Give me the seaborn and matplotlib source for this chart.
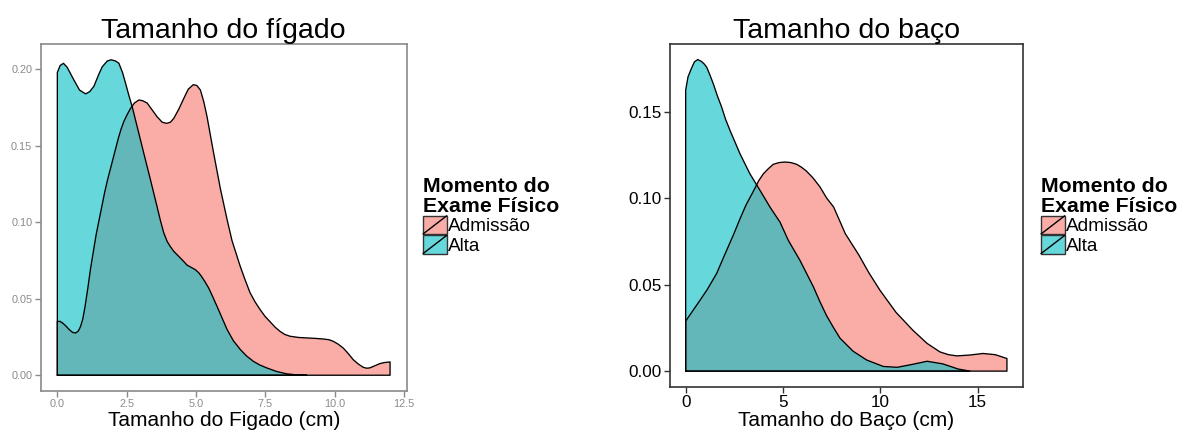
import pandas as pd
import matplotlib
matplotlib.use('Agg')
import matplotlib.pyplot as plt
import seaborn as sns
from matplotlib.colors import to_rgba
from matplotlib.legend_handler import HandlerBase
from matplotlib.patches import Patch, Rectangle
from matplotlib.lines import Line2D
from matplotlib.ticker import FormatStrFormatter


grupos = ['Admissão', 'Alta']
cores = ['#F8766D', '#00BFC4']

# curvas de densidade
figado_adm_x = [0, 0.1, 0.2, 0.32, 0.42, 0.55, 0.66, 0.76, 0.84, 0.92, 1.0, 1.1, 1.2, 1.3,
                1.4, 1.5, 1.6, 1.7, 1.8, 1.9, 2.0, 2.1, 2.2, 2.3, 2.4, 2.52, 2.64, 2.78,
                2.94, 3.08, 3.24, 3.42, 3.6, 3.78, 3.94, 4.08, 4.2, 4.38, 4.56, 4.72, 4.9,
                5.03, 5.16, 5.28, 5.4, 5.52, 5.64, 5.76, 5.88, 6.0, 6.12, 6.3, 6.45, 6.6,
                6.78, 6.95, 7.13, 7.31, 7.49, 7.67, 7.85, 8.03, 8.2, 8.39, 8.7, 8.99, 9.3,
                9.59, 9.8, 9.95, 10.13, 10.31, 10.5, 10.67, 10.85, 11.03, 11.15, 11.27,
                11.45, 11.63, 11.8, 12.0]
figado_adm_y = [0.0352, 0.0352, 0.034, 0.032, 0.030, 0.028, 0.0276, 0.029, 0.032, 0.037,
                0.045, 0.057, 0.070, 0.081, 0.092, 0.101, 0.110, 0.119, 0.127, 0.134,
                0.141, 0.148, 0.155, 0.161, 0.166, 0.1705, 0.1745, 0.178, 0.180, 0.1795,
                0.178, 0.1735, 0.169, 0.1655, 0.1647, 0.1655, 0.168, 0.174, 0.181, 0.187,
                0.190, 0.1895, 0.1865, 0.179, 0.169, 0.157, 0.145, 0.1335, 0.122, 0.112,
                0.102, 0.088, 0.0795, 0.071, 0.062, 0.054, 0.048, 0.043, 0.0385, 0.035,
                0.0315, 0.0287, 0.0267, 0.0255, 0.0247, 0.0244, 0.0241, 0.0237, 0.0232,
                0.0222, 0.0203, 0.0178, 0.0140, 0.0102, 0.0074, 0.0052, 0.0046, 0.0048,
                0.0062, 0.0076, 0.0083, 0.0087]

figado_alta_x = [0, 0.1, 0.22, 0.35, 0.6, 0.8, 1.02, 1.17, 1.32, 1.5, 1.62, 1.8, 1.94, 2.1,
                 2.22, 2.35, 2.46, 2.58, 2.7, 2.88, 3.12, 3.36, 3.6, 3.72, 3.84, 3.96,
                 4.08, 4.2, 4.32, 4.5, 4.68, 4.85, 4.98, 5.1, 5.2, 5.33, 5.46, 5.6, 5.76,
                 5.94, 6.12, 6.35, 6.6, 6.83, 7.07, 7.3, 7.55, 7.9, 8.27, 8.6, 9.0]
figado_alta_y = [0.198, 0.2025, 0.204, 0.2015, 0.193, 0.1865, 0.184, 0.1855, 0.189, 0.197,
                 0.2017, 0.2055, 0.2063, 0.2055, 0.204, 0.198, 0.191, 0.183, 0.1756,
                 0.1625, 0.145, 0.1277, 0.110, 0.101, 0.093, 0.0875, 0.084, 0.081, 0.0788,
                 0.0755, 0.072, 0.0703, 0.069, 0.067, 0.0646, 0.061, 0.057, 0.0515, 0.045,
                 0.0375, 0.030, 0.0225, 0.0168, 0.0125, 0.0091, 0.0067, 0.0048, 0.0025,
                 0.0009, 0.0003, 0.0]

baco_adm_x = [0, 0.74, 1.1, 1.59, 1.9, 2.19, 2.5, 2.79, 3.1, 3.48, 3.75, 3.99, 4.25, 4.5,
              4.8, 5.1, 5.4, 5.7, 5.95, 6.2, 6.55, 6.9, 7.24, 7.6, 8.2, 8.9, 9.4, 9.98,
              10.8, 11.67, 12.4, 13.06, 13.5, 13.93, 14.6, 15.27, 15.9, 16.5]
baco_adm_y = [0.0289, 0.041, 0.047, 0.0564, 0.0645, 0.072, 0.080, 0.088, 0.096, 0.104,
              0.110, 0.114, 0.117, 0.1195, 0.1205, 0.1208, 0.1205, 0.1195, 0.1178, 0.1156,
              0.1115, 0.1064, 0.100, 0.0948, 0.0794, 0.067, 0.057, 0.0467, 0.034, 0.0236,
              0.016, 0.0111, 0.0095, 0.0088, 0.0093, 0.0102, 0.0095, 0.0073]

baco_alta_x = [0, 0.12, 0.3, 0.45, 0.62, 0.8, 0.95, 1.08, 1.25, 1.42, 1.63, 1.85, 2.05,
               2.28, 2.79, 3.3, 3.82, 4.33, 4.85, 5.27, 5.87, 6.56, 6.9, 7.24, 7.6, 7.93,
               8.6, 9.3, 10.15, 10.86, 11.6, 12.4, 13.2, 14.0, 14.6]
baco_alta_y = [0.1623, 0.170, 0.175, 0.1787, 0.180, 0.179, 0.1775, 0.1756, 0.171, 0.166,
               0.159, 0.1525, 0.1455, 0.139, 0.1256, 0.114, 0.1044, 0.0948, 0.086, 0.0756,
               0.064, 0.0487, 0.040, 0.032, 0.025, 0.019, 0.0115, 0.0064, 0.0027, 0.0022,
               0.0038, 0.0057, 0.0042, 0.0012, 0.0]


class ChaveDensidade(HandlerBase):
    # caixa preenchida com a diagonal, como a legenda do ggplot
    def create_artists(self, legend, orig_handle, xdescent, ydescent, width, height,
                       fontsize, trans):
        x0, y0 = -xdescent, -ydescent
        caixa = Rectangle((x0, y0), width, height, facecolor=orig_handle.get_facecolor(),
                          edgecolor='#333333', lw=1.0, transform=trans)
        diag = Line2D([x0, x0 + width], [y0, y0 + height], color='black', lw=1.0,
                      transform=trans)
        return [caixa, diag]


def desenha_densidade(ax, x, y, cor):
    px = [x[0]] + list(x) + [x[-1], x[0]]
    py = [0] + list(y) + [0, 0]
    ax.fill(px, py, facecolor=to_rgba(cor, 0.6), edgecolor='none')
    poly = pd.DataFrame({'x': px, 'y': py})
    sns.lineplot(data=poly, x='x', y='y', sort=False, estimator=None,
                 color='black', lw=0.95, ax=ax, solid_joinstyle='round')


def painel(fig, pos, curvas, titulo, xlabel, xticks, fmt_x, yticks, estilo):
    ax = fig.add_axes(pos)
    for (x, y), cor in zip(curvas, cores):
        desenha_densidade(ax, x, y, cor)

    xmin = min(min(c[0]) for c in curvas)
    xmax = max(max(c[0]) for c in curvas)
    ymax = max(max(c[1]) for c in curvas)
    dx = 0.05 * (xmax - xmin)
    ax.set_xlim(xmin - dx, xmax + dx)
    ax.set_ylim(-0.05 * ymax, 1.05 * ymax)

    ax.set_xticks(xticks)
    ax.set_yticks(yticks)
    ax.xaxis.set_major_formatter(FormatStrFormatter(fmt_x))
    ax.yaxis.set_major_formatter(FormatStrFormatter('%.2f'))
    ax.tick_params(axis='both', length=4, width=1.0, color=estilo['borda'],
                   labelsize=estilo['tick_size'], labelcolor=estilo['tick_cor'],
                   pad=2, bottom=True, left=True)
    for s in ax.spines.values():
        s.set_color(estilo['borda'])
        s.set_linewidth(1.2)

    ax.set_title(titulo, fontsize=20.5, pad=4, color='black')
    ax.set_xlabel(xlabel, fontsize=15, labelpad=1, color='black')
    ax.set_ylabel('')
    ax.grid(False)
    return ax


def legenda(fig, x, y):
    handles = [Patch(facecolor=to_rgba(c, 0.6), label=g) for g, c in zip(grupos, cores)]
    leg = fig.legend(handles=handles, title='Momento do\nExame Físico',
                     loc='upper left', bbox_to_anchor=(x, y), bbox_transform=fig.transFigure,
                     frameon=False, fontsize=13.7, title_fontsize=15.3,
                     handler_map={Patch: ChaveDensidade()},
                     handlelength=1.25, handleheight=1.1, handletextpad=0.05,
                     labelspacing=0.0, borderpad=0, borderaxespad=0, alignment='left')
    leg.get_title().set_fontweight('bold')
    leg.get_title().set_color('black')
    leg.get_title().set_linespacing(1.05)
    for t in leg.get_texts():
        t.set_color('black')
    return leg


def main():
    sns.set_theme(style='white')
    plt.rcParams['font.family'] = ['Liberation Sans', 'DejaVu Sans']
    plt.rcParams['text.color'] = 'black'
    plt.rcParams['axes.labelcolor'] = 'black'

    W, H = 1177, 433
    fig = plt.figure(figsize=(W / 100, H / 100), dpi=100)

    painel(fig, [40.7 / W, 1 - 391 / H, 366 / W, 347 / H],
           [(figado_adm_x, figado_adm_y), (figado_alta_x, figado_alta_y)],
           'Tamanho do fígado', 'Tamanho do Figado (cm)',
           [0, 2.5, 5, 7.5, 10, 12.5], '%.1f', [0, 0.05, 0.10, 0.15, 0.20],
           {'borda': '#8a8a8a', 'tick_size': 7.8, 'tick_cor': '#8a8a8a'})

    painel(fig, [669.6 / W, 1 - 386.7 / H, 353.4 / W, 342.7 / H],
           [(baco_adm_x, baco_adm_y), (baco_alta_x, baco_alta_y)],
           'Tamanho do baço', 'Tamanho do Baço (cm)',
           [0, 5, 10, 15], '%d', [0, 0.05, 0.10, 0.15],
           {'borda': '#333333', 'tick_size': 12.3, 'tick_cor': 'black'})

    legenda(fig, 423 / W, 1 - 177 / H)
    legenda(fig, 1041 / W, 1 - 177 / H)

    fig.savefig('out.png', dpi=100)


if __name__ == "__main__":
    main()
